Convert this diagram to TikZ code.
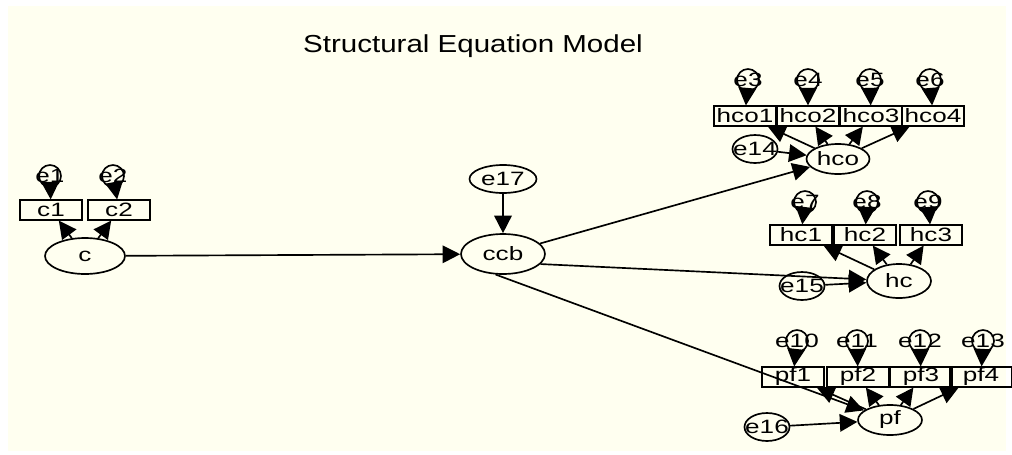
\documentclass[tikz,border=0pt]{standalone}
\usepackage{fontspec}
\setmainfont{Liberation Sans}
\newfontfamily\labfont[FakeStretch=1.35]{Liberation Sans}
\newfontfamily\titfont[FakeStretch=1.2]{Liberation Sans}
\usetikzlibrary{arrows.meta,shapes.geometric}
\definecolor{ivorybg}{HTML}{FFFFF0}
\newcommand\ovl[1]{\makebox[0pt]{#1}}

\begin{document}
\begin{tikzpicture}[x=0.02cm,y=-0.02cm,>={Triangle[length=10pt,width=10pt]},line width=0.95pt,
  obs/.style={draw,rectangle,minimum width=1.24cm,minimum height=0.39cm,inner sep=0pt,
    font=\labfont\fontsize{11}{12}\selectfont},
  lat/.style={draw,ellipse,inner sep=0pt,font=\labfont\fontsize{11}{12}\selectfont},
  err/.style={draw,circle,minimum size=0.44cm,inner sep=0pt,font=\labfont\fontsize{11}{12}\selectfont},
  dis/.style={draw,ellipse,minimum width=0.9cm,minimum height=0.56cm,inner sep=0pt,
    font=\labfont\fontsize{11}{12}\selectfont}]
  \useasboundingbox (0,0) rectangle (1012,454);
  \fill[ivorybg] (8,6) rectangle (1006,451);

  \node[font=\titfont\fontsize{14}{16}\selectfont] (title) at (473,46) {Structural Equation Model};

  \node[lat,minimum width=1.6cm,minimum height=0.72cm] (c) at (85,256) {c};
  \node[lat,minimum width=1.68cm,minimum height=0.8cm] (ccb) at (503,254) {ccb};
  \node[lat,minimum width=1.26cm,minimum height=0.6cm] (hco) at (838,159) {hco};
  \node[lat,minimum width=1.28cm,minimum height=0.68cm] (hc) at (899,281) {hc};
  \node[lat,minimum width=1.28cm,minimum height=0.6cm] (pf) at (890,420) {pf};

  \node[dis,minimum width=1.34cm] (e17) at (503,179) {e17};
  \node[dis] (e14) at (755,149) {\ovl{e14}};
  \node[dis] (e15) at (802,286) {\ovl{e15}};
  \node[dis] (e16) at (767,427) {\ovl{e16}};

  \foreach \n/\x/\y in {c1/51/210,c2/119/210,hco1/745/116,hco2/808/116,hco3/871/116,hco4/933/116,
    hc1/801/235,hc2/865/235,hc3/931/235,pf1/793/377,pf2/858/377,pf3/921/377,pf4/981/377}
    \node[obs] (\n) at (\x,\y) {\n};

  \foreach \n/\x/\y/\t in {e1/50/176/c1,e2/113/176/c2,e3/748/80/hco1,e4/808/80/hco2,e5/870/80/hco3,
    e6/930/80/hco4,e7/805/202/hc1,e8/867/202/hc2,e9/928/202/hc3,e10/797/341/pf1,e11/857/341/pf2,
    e12/920/341/pf3,e13/983/341/pf4}
  {
    \node[err] (\n) at (\x,\y) {\ovl{\n}};
    \draw[->] (\n) -- (\t);
  }

  \foreach \f/\t in {c/c1,c/c2,hco/hco1,hco/hco2,hco/hco3,hco/hco4,hc/hc1,hc/hc2,hc/hc3,
    pf/pf1,pf/pf2,pf/pf3,pf/pf4,e17/ccb,e14/hco,e15/hc,e16/pf}
    \draw[->] (\f) -- (\t);

  \draw[->] (c) -- (ccb);
  \draw[->] (ccb) -- (hco);
  \draw[->] (ccb.-15) -- (hc);
  \draw[->] (ccb.-110) -- (pf);
\end{tikzpicture}
\end{document}
